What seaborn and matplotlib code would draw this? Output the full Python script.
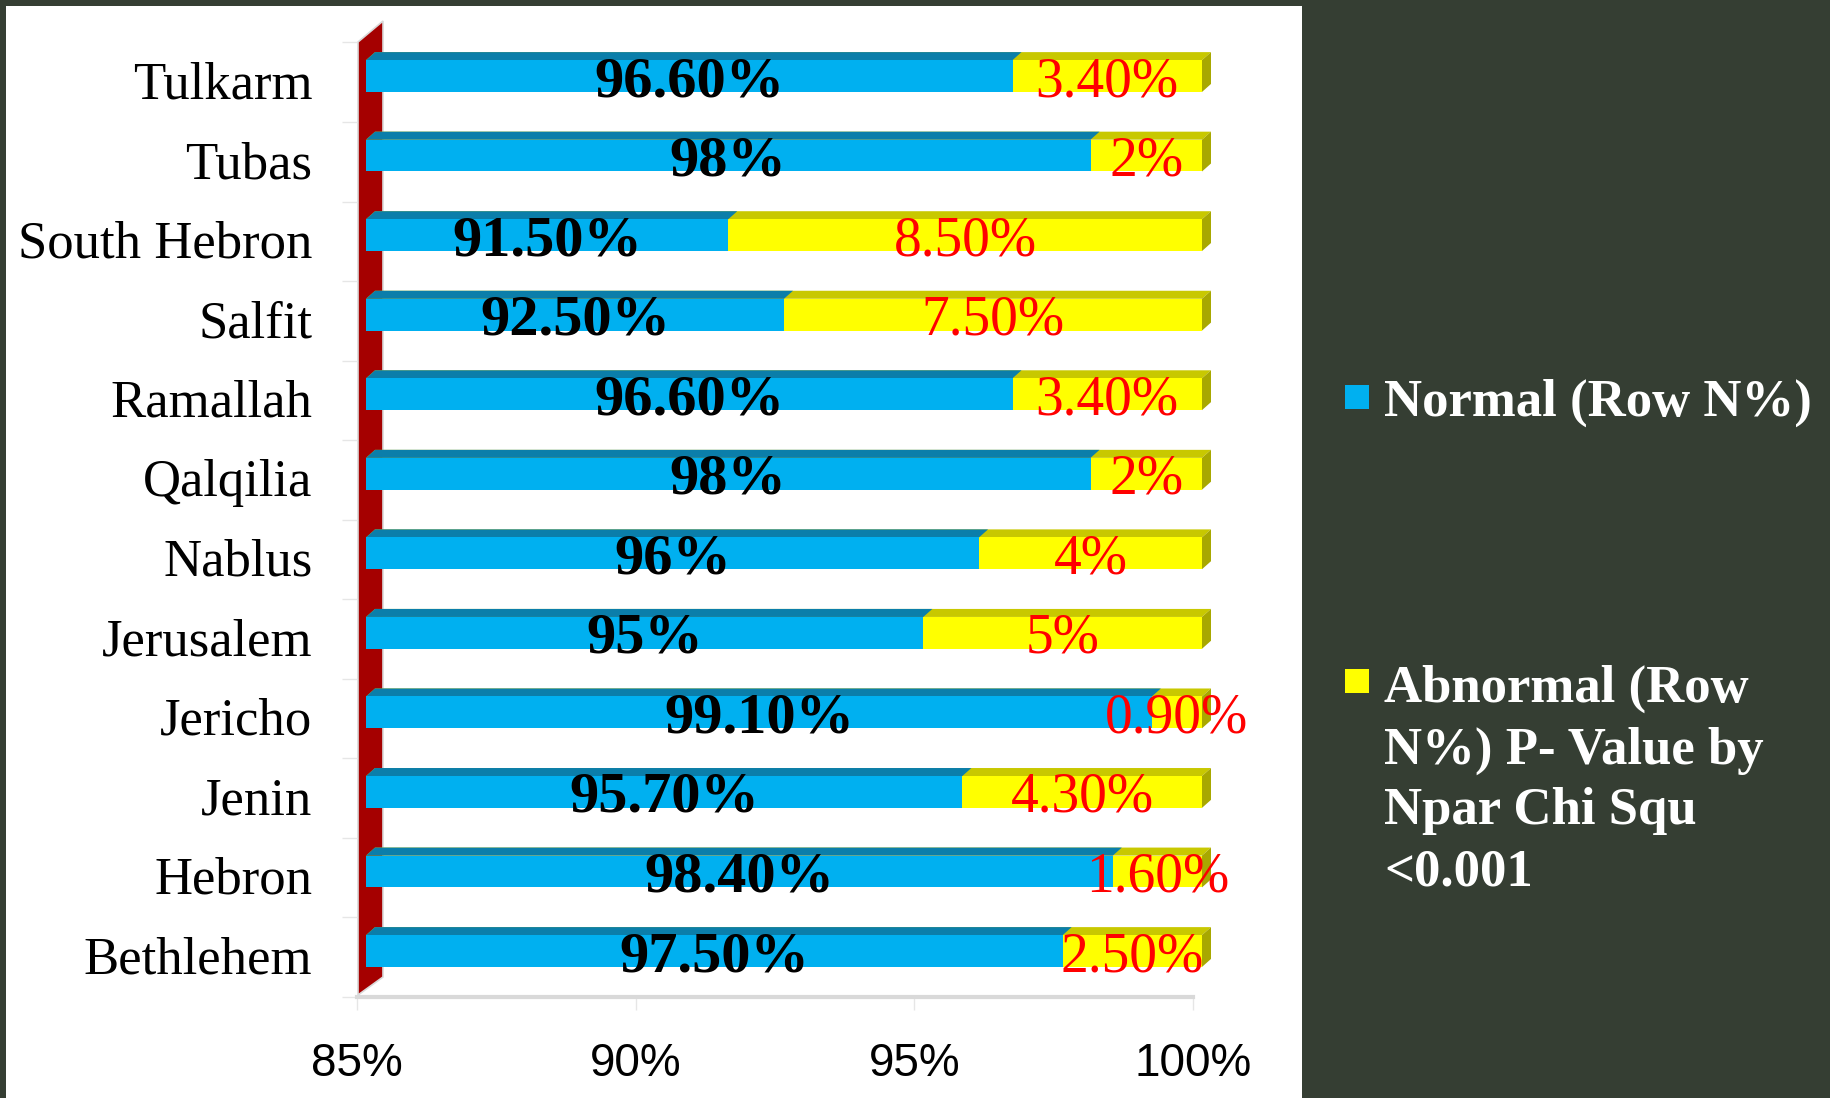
import numpy as np
import pandas as pd
import seaborn as sns
import matplotlib.pyplot as plt
from matplotlib import font_manager
from matplotlib.patches import Polygon, Rectangle
from matplotlib.transforms import ScaledTranslation

# ---- data -------------------------------------------------------------
districts = ["Tulkarm", "Tubas", "South Hebron", "Salfit", "Ramallah", "Qalqilia",
             "Nablus", "Jerusalem", "Jericho", "Jenin", "Hebron", "Bethlehem"]
normal_pct = [96.6, 98, 91.5, 92.5, 96.6, 98, 96, 95, 99.1, 95.7, 98.4, 97.5]
abnormal_pct = [3.4, 2, 8.5, 7.5, 3.4, 2, 4, 5, 0.9, 4.3, 1.6, 2.5]
x_ticks = [85, 90, 95, 100]
x_tick_labels = ["85%", "90%", "95%", "100%"]
series_labels = ["Normal (Row N%)",
                 "Abnormal (Row\nN%) P- Value by\nNpar Chi Squ\n<0.001"]

# ---- style ------------------------------------------------------------
BLUE, BLUE_TOP = "#00B0F0", "#0B7EAA"
YELLOW, YELLOW_TOP, YELLOW_SIDE = "#FFFF00", "#C8C800", "#A8A800"
WALL = "#A50000"
DARK_BG = "#353E33"
GRID_GREY = "#D9D9D9"

sns.set_theme(style="white")
installed = {f.name for f in font_manager.fontManager.ttflist}
SERIF = "Liberation Serif"
NARROW = "Liberation Sans Narrow" if "Liberation Sans Narrow" in installed else "Liberation Sans"
TICK_SIZE = 35 if NARROW == "Liberation Sans Narrow" else 33
plt.rcParams["font.family"] = [SERIF, "DejaVu Serif"]

W, H, DPI = 1831, 1098, 100
fig = plt.figure(figsize=(W / DPI, H / DPI), dpi=DPI, facecolor=DARK_BG)

# white chart panel on the dark slide background
fig.add_artist(Rectangle((6 / W, 0), (1302 - 6) / W, (H - 6) / H,
                         transform=fig.transFigure, facecolor="white",
                         edgecolor="none", zorder=-5))

XMIN, XMAX = 85, 100
YBOT, YTOP = 11.578, -0.629
ax = fig.add_axes([357 / W, 101 / H, (1193 - 357) / W, (1072 - 101) / H])
ax.set_facecolor("none")

df = pd.DataFrame({"district": districts, "normal": normal_pct, "abnormal": abnormal_pct})
df["total"] = df["normal"] + df["abnormal"]

BAR_W = 0.40
sns.barplot(data=df, y="district", x="total", order=districts, orient="h",
            color=YELLOW, saturation=1, width=BAR_W, linewidth=0, ax=ax, zorder=4)
sns.barplot(data=df, y="district", x="normal", order=districts, orient="h",
            color=BLUE, saturation=1, width=BAR_W, linewidth=0, ax=ax, zorder=6)

ax.set_xlim(XMIN, XMAX)
ax.set_ylim(YBOT, YTOP)
ax.set_xlabel("")
ax.set_ylabel("")

# pixel scale of the axes, used for the oblique 3-D depth of the bars
pos = ax.get_position()
px_x = pos.width * W / (XMAX - XMIN)
px_y = pos.height * H / (YBOT - YTOP)
front = ax.transData + ScaledTranslation(9 / DPI, 0, fig.dpi_scale_trans)
ddx, ddy = 9 / px_x, 8 / px_y

yellow_bars, blue_bars = ax.containers[0], ax.containers[1]
for bars, top_col, side_col, z in [(yellow_bars, YELLOW_TOP, YELLOW_SIDE, 3),
                                   (blue_bars, BLUE_TOP, None, 5)]:
    for p in bars:
        right = p.get_x() + p.get_width()
        p.set_x(XMIN)
        p.set_width(right - XMIN)
        p.set_transform(front)
        p.set_clip_on(False)
        yt, yb = p.get_y(), p.get_y() + p.get_height()
        ax.add_patch(Polygon([(XMIN, yt), (right, yt), (right + ddx, yt - ddy),
                              (XMIN + ddx, yt - ddy)], closed=True,
                             facecolor=top_col, edgecolor="none",
                             transform=front, clip_on=False, zorder=z))
        if side_col is not None:
            ax.add_patch(Polygon([(right, yt), (right + ddx, yt - ddy),
                                  (right + ddx, yb - ddy), (right, yb)], closed=True,
                                 facecolor=side_col, edgecolor="none",
                                 transform=front, clip_on=False, zorder=z))


def pct_text(v):
    return f"{v:.0f}%" if abs(v - round(v)) < 1e-9 else f"{v:.2f}%"


for i, (n, a) in enumerate(zip(normal_pct, abnormal_pct)):
    ax.text((XMIN + n) / 2, i, pct_text(n), transform=front, ha="center",
            va="center_baseline", fontsize=42, fontweight="bold", color="black",
            zorder=10, clip_on=False)
    ax.text((n + n + a) / 2, i, pct_text(a), transform=front, ha="center",
            va="center_baseline", fontsize=40, color="#FF0000",
            zorder=10, clip_on=False)

# dark red side wall of the 3-D plot box, drawn behind the axes content
bb = ax.get_window_extent(renderer=fig.canvas.get_renderer())
wx0, wx1 = bb.x0 + 1, bb.x0 + 26
wall = Polygon([(wx0, bb.y0 + 2), (wx0, bb.y1 - 16), (wx1, bb.y1 + 5), (wx1, bb.y0 + 20)],
               closed=True, facecolor=WALL, edgecolor=GRID_GREY, linewidth=1.2,
               transform=None, zorder=-1)
fig.add_artist(wall)

# axes, ticks and floor
for side in ["top", "right", "left"]:
    ax.spines[side].set_visible(False)
ax.spines["bottom"].set_color(GRID_GREY)
ax.spines["bottom"].set_linewidth(3)

ax.set_xticks(x_ticks)
ax.set_xticklabels(x_tick_labels, fontfamily=NARROW, fontsize=TICK_SIZE, color="black")
ax.tick_params(axis="x", which="major", length=9.5, width=1, color="#E6E6E6",
               pad=23, direction="out", bottom=True)

ax.set_yticks(range(len(districts)))
ax.set_yticklabels(districts, fontfamily=SERIF, fontsize=38, color="black")
ax.tick_params(axis="y", which="major", length=0, pad=32)
label_shift = ScaledTranslation(0, -4 / DPI, fig.dpi_scale_trans)
for lbl in ax.get_yticklabels():
    lbl.set_transform(lbl.get_transform() + label_shift)
ax.set_yticks([YBOT - k for k in range(len(districts) + 1)], minor=True)
ax.tick_params(axis="y", which="minor", length=11, width=1, color="#E6E6E6",
               direction="out", left=True)

# legend on the dark panel
leg_font = dict(fontfamily=SERIF, fontsize=38, fontweight="bold", color="white")
for colr, label, sq_top, txt_y, va in [(BLUE, series_labels[0], 385, 397, "center_baseline"),
                                       (YELLOW, series_labels[1], 669, 665, "top")]:
    fig.add_artist(Rectangle((1345 / W, 1 - (sq_top + 24) / H), 24 / W, 24 / H,
                             transform=fig.transFigure, facecolor=colr,
                             edgecolor="none"))
    fig.text(1384 / W, 1 - txt_y / H, label, ha="left", va=va,
             linespacing=1.35, **leg_font)

fig.savefig("out.png", dpi=DPI, facecolor=DARK_BG)
